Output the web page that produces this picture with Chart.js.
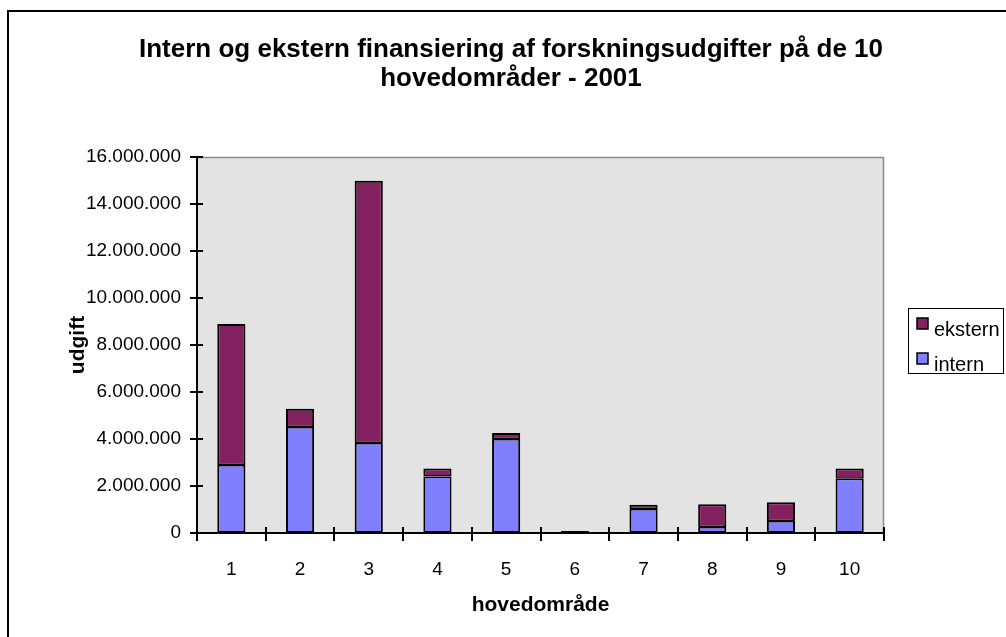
<!DOCTYPE html>
<html>
<head>
<meta charset="utf-8">
<title>Intern og ekstern finansiering</title>
<script src="https://cdn.jsdelivr.net/npm/chart.js@4/dist/chart.umd.min.js"></script>
<style>
  html, body { margin: 0; padding: 0; background: #fff; }
  #wrap { width: 1006px; height: 637px; position: relative; }
</style>
</head>
<body>
<div id="wrap"><canvas id="chart" width="1006" height="637"></canvas></div>
<script>
// data
const categories = ['1', '2', '3', '4', '5', '6', '7', '8', '9', '10'];
const internValues = [2890000, 4510000, 3830000, 2400000, 4000000, 40000, 1020000, 260000, 510000, 2310000];
const eksternValues = [6000000, 780000, 11160000, 340000, 260000, 40000, 180000, 960000, 800000, 440000];
const yTicks = [0, 2000000, 4000000, 6000000, 8000000, 10000000, 12000000, 14000000, 16000000];

const titleLines = ['Intern og ekstern finansiering af forskningsudgifter på de 10', 'hovedområder - 2001'];
const xTitle = 'hovedområde';
const yTitle = 'udgift';

const colEkstern = '#832060';
const colIntern = '#8080ff';
const FONT = '"Liberation Sans", Arial, sans-serif';

function fmt(v) {
    return String(v).replace(/\B(?=(\d{3})+(?!\d))/g, '.');
}

// draws frame, plot background, axes, ticks, titles and legend
const decor = {
    id: 'decor',
    beforeDraw(chart) {
        const ctx = chart.ctx;
        const a = chart.chartArea;
        ctx.save();
        ctx.fillStyle = '#fff';
        ctx.fillRect(0, 0, chart.width, chart.height);
        ctx.fillStyle = '#e3e3e3';
        ctx.fillRect(a.left, a.top, a.right - a.left, a.bottom - a.top);
        ctx.restore();
    },
    afterDraw(chart) {
        const ctx = chart.ctx;
        const a = chart.chartArea;
        const xs = chart.scales.x;
        const ys = chart.scales.y;
        ctx.save();

        // outer frame
        ctx.strokeStyle = '#000';
        ctx.lineWidth = 2;
        ctx.strokeRect(8, 11, 1010, 640);

        // plot border top / right
        ctx.strokeStyle = '#8a8a8a';
        ctx.lineWidth = 1.5;
        ctx.beginPath();
        ctx.moveTo(a.left, a.top + 0.5);
        ctx.lineTo(a.right - 0.5, a.top + 0.5);
        ctx.lineTo(a.right - 0.5, a.bottom);
        ctx.stroke();

        // axes
        ctx.strokeStyle = '#000';
        ctx.lineWidth = 2;
        ctx.beginPath();
        ctx.moveTo(a.left, a.top);
        ctx.lineTo(a.left, a.bottom);
        ctx.moveTo(a.left, a.bottom);
        ctx.lineTo(a.right, a.bottom);
        ctx.stroke();

        // y ticks
        ctx.beginPath();
        yTicks.forEach(v => {
            const y = Math.round(ys.getPixelForValue(v));
            ctx.moveTo(a.left - 7, y);
            ctx.lineTo(a.left + 6, y);
        });
        // x ticks at category boundaries
        const step = xs.getPixelForValue(1) - xs.getPixelForValue(0);
        for (let i = 0; i <= categories.length; i++) {
            const x = Math.round(xs.getPixelForValue(0) - step / 2 + i * step);
            ctx.moveTo(x, a.bottom - 6);
            ctx.lineTo(x, a.bottom + 8);
        }
        ctx.stroke();

        // chart title
        ctx.fillStyle = '#000';
        ctx.textAlign = 'center';
        ctx.textBaseline = 'alphabetic';
        ctx.font = 'bold 26px ' + FONT;
        ctx.fillText(titleLines[0], 511, 57);
        ctx.fillText(titleLines[1], 511, 86);

        // axis titles
        ctx.font = 'bold 21px ' + FONT;
        ctx.fillText(xTitle, (a.left + a.right) / 2, 611);
        ctx.save();
        ctx.translate(84, (a.top + a.bottom) / 2);
        ctx.rotate(-Math.PI / 2);
        ctx.fillText(yTitle, 0, 0);
        ctx.restore();

        // legend (ekstern first, as in the original)
        ctx.lineWidth = 1;
        ctx.strokeStyle = '#000';
        ctx.strokeRect(908.5, 308.5, 95, 65);
        const items = [
            { label: chart.data.datasets[1].label, color: chart.data.datasets[1].backgroundColor, y: 318 },
            { label: chart.data.datasets[0].label, color: chart.data.datasets[0].backgroundColor, y: 353 }
        ];
        ctx.font = '20px ' + FONT;
        ctx.textAlign = 'left';
        items.forEach(it => {
            ctx.fillStyle = it.color;
            ctx.fillRect(917, it.y, 11, 11);
            ctx.lineWidth = 1.5;
            ctx.strokeRect(917, it.y, 11, 11);
            ctx.fillStyle = '#000';
            ctx.fillText(it.label, 934, it.y + 18);
        });

        ctx.restore();
    }
};

new Chart(document.getElementById('chart'), {
    type: 'bar',
    data: {
        labels: categories,
        datasets: [
            {
                label: 'intern',
                data: internValues,
                backgroundColor: colIntern,
                borderColor: '#000',
                borderWidth: { top: 1.5, left: 2, right: 2, bottom: 2 },
                borderSkipped: false,
                barPercentage: 0.41,
                categoryPercentage: 1
            },
            {
                label: 'ekstern',
                data: eksternValues,
                backgroundColor: colEkstern,
                borderColor: '#000',
                borderWidth: { top: 2, left: 2, right: 2, bottom: 1.5 },
                borderSkipped: false,
                barPercentage: 0.41,
                categoryPercentage: 1
            }
        ]
    },
    options: {
        responsive: false,
        animation: false,
        devicePixelRatio: 1,
        layout: { padding: { top: 157, right: 122, left: 0, bottom: 0 } },
        plugins: {
            legend: { display: false },
            title: { display: false },
            tooltip: { enabled: false }
        },
        scales: {
            x: {
                stacked: true,
                grid: { display: false, drawTicks: false },
                border: { display: false },
                ticks: {
                    color: '#000',
                    font: { family: FONT, size: 19 },
                    padding: 25,
                    maxRotation: 0
                },
                afterFit(scale) { scale.height = 104; }
            },
            y: {
                stacked: true,
                min: 0,
                max: 16000000,
                grid: { display: false, drawTicks: false },
                border: { display: false },
                ticks: {
                    stepSize: 2000000,
                    color: '#000',
                    font: { family: FONT, size: 19 },
                    padding: 16,
                    callback: v => fmt(v)
                },
                afterFit(scale) { scale.width = 197; }
            }
        }
    },
    plugins: [decor]
});
</script>
</body>
</html>
